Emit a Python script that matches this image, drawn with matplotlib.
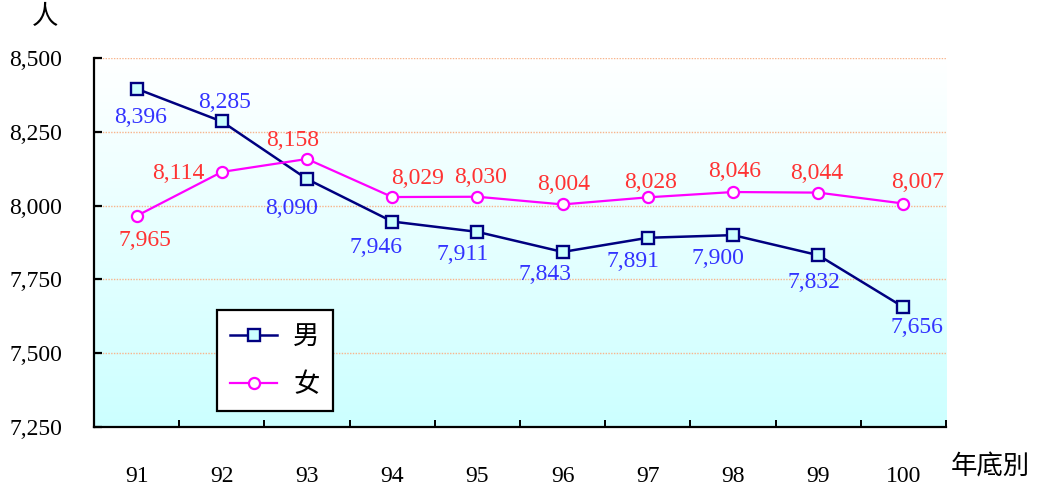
import numpy as np
import matplotlib.pyplot as plt

years = ["91", "92", "93", "94", "95", "96", "97", "98", "99", "100"]
male = [8396, 8285, 8090, 7946, 7911, 7843, 7891, 7900, 7832, 7656]
female = [7965, 8114, 8158, 8029, 8030, 8004, 8028, 8046, 8044, 8007]

# label offsets in points (dx, dy) relative to each marker
male_off = [(3, -21), (2, 14), (-11, -21), (-12, -19), (-11, -16), (-13, -16),
            (-11, -17), (-11, -17), (-3, -20), (10, -15)]
female_off = [(6, -18), (-31, -1), (-10, 13), (18, 13), (2, 14), (1, 14),
              (2, 11), (1, 15), (-1, 14), (10, 15)]

num_font = "Liberation Serif"
cjk_font = ["Noto Sans CJK TC", "DejaVu Sans"]

fig = plt.figure(figsize=(10.43, 4.9), dpi=100)
ax = fig.add_axes([0.0901, 0.1286, 0.8170, 0.7530])

x = np.arange(len(years))
ax.set_xlim(-0.5, len(years) - 0.5)
ax.set_ylim(7250, 8500)

# background fades from white at the top to pale cyan at the bottom
grad = np.linspace(0, 1, 256).reshape(-1, 1)
top = np.array([1.0, 1.0, 1.0])
bottom = np.array([0.80, 1.0, 1.0])
img = top + grad * (bottom - top)
ax.imshow(img.reshape(256, 1, 3), extent=(-0.5, len(years) - 0.5, 7250, 8500),
          aspect="auto", zorder=0)

for yv in [7500, 7750, 8000, 8250, 8500]:
    ax.axhline(yv, color="#f8b48c", lw=1.0, ls=(0, (1, 1)), zorder=1)

ax.plot(x, male, color="#000080", lw=1.8, marker="s", ms=8,
        mfc="#ccffff", mec="#000080", mew=1.7, label="男", zorder=3)
ax.plot(x, female, color="#ff00ff", lw=1.6, marker="o", ms=8,
        mfc="white", mec="#ff00ff", mew=1.6, label="女", zorder=3)

for xi, v, (dx, dy) in zip(x, male, male_off):
    ax.annotate(f"{v:,}", (xi, v), xytext=(dx, dy), textcoords="offset points",
                ha="center", va="center", color="#3333ff", fontsize=17,
                family=num_font, zorder=4)
for xi, v, (dx, dy) in zip(x, female, female_off):
    ax.annotate(f"{v:,}", (xi, v), xytext=(dx, dy), textcoords="offset points",
                ha="center", va="center", color="#ff3333", fontsize=17,
                family=num_font, zorder=4)

for s in ["top", "right"]:
    ax.spines[s].set_visible(False)
for s in ["left", "bottom"]:
    ax.spines[s].set_linewidth(1.6)

ax.set_yticks([7250, 7500, 7750, 8000, 8250, 8500])
ax.set_yticklabels([f"{t:,}" for t in ax.get_yticks().astype(int)],
                   family=num_font, fontsize=17)
ax.tick_params(axis="y", direction="in", length=6, width=1.6, pad=23)

ax.set_xticks(x)
ax.set_xticklabels(years, family=num_font, fontsize=17)
ax.set_xticks(np.arange(0.5, len(years)), minor=True)
ax.tick_params(axis="x", which="major", length=0, pad=28)
ax.tick_params(axis="x", which="minor", direction="in", length=5, width=1.4)

leg = ax.legend(loc="lower left", bbox_to_anchor=(0.144, 0.043),
                prop={"family": cjk_font, "size": 19}, frameon=True,
                fancybox=False, handlelength=1.8, handletextpad=0.6,
                labelspacing=0.8, borderpad=0.5, borderaxespad=0)
leg.get_frame().set_edgecolor("black")
leg.get_frame().set_linewidth(1.6)
leg.get_frame().set_facecolor("white")
leg.get_frame().set_alpha(1)

fig.text(45 / 1043, 1 - 17 / 490, "人", family=cjk_font, fontsize=19,
         ha="center", va="center")
fig.text(990 / 1043, 1 - 466 / 490, "年底別", family=cjk_font, fontsize=19,
         ha="center", va="center")

fig.savefig("out.png", dpi=100)
